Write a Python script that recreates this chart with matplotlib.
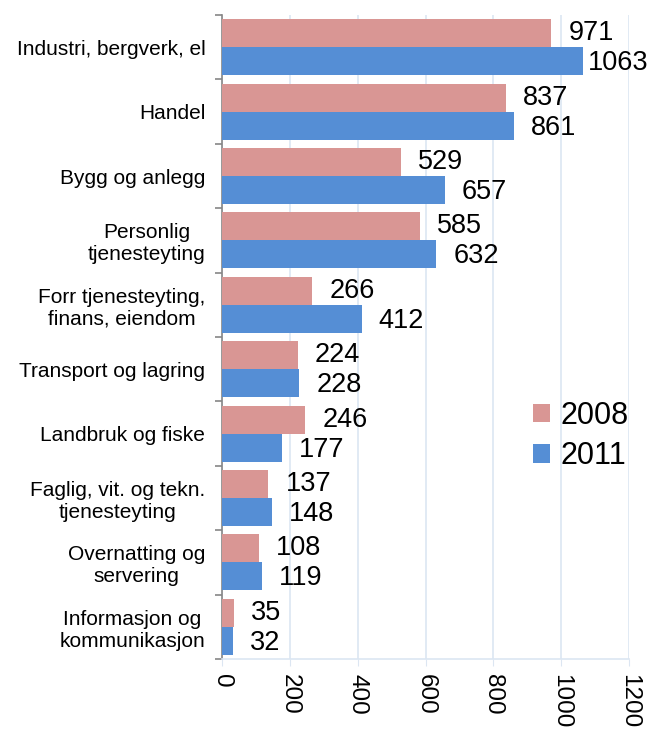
import matplotlib.pyplot as plt
import numpy as np

plt.rcParams['font.family'] = ['Liberation Sans', 'DejaVu Sans']

categories = [
    "Industri, bergverk, el",
    "Handel",
    "Bygg og anlegg",
    "Personlig\ntjenesteyting",
    "Forr tjenesteyting,\nfinans, eiendom",
    "Transport og lagring",
    "Landbruk og fiske",
    "Faglig, vit. og tekn.\ntjenesteyting",
    "Overnatting og\nservering",
    "Informasjon og\nkommunikasjon",
]
v2008 = [971, 837, 529, 585, 266, 224, 246, 137, 108, 35]
v2011 = [1063, 861, 657, 632, 412, 228, 177, 148, 119, 32]
xticks = [0, 200, 400, 600, 800, 1000, 1200]

pink = '#d99694'
blue = '#558ed5'
grid_col = '#dce6f2'

fig = plt.figure(figsize=(6.47, 7.31), dpi=100)
ax = fig.add_axes([222 / 647, 72 / 731, 407 / 647, 644 / 731])

y = np.arange(len(categories))
h = 0.435
ax.barh(y - h / 2, v2008, height=h, color=pink, label='2008', zorder=3)
ax.barh(y + h / 2, v2011, height=h, color=blue, label='2011', zorder=3)

for yi, a, b in zip(y, v2008, v2011):
    for val, yy in ((a, yi - h / 2), (b, yi + h / 2 + 0.03)):
        off = 5 if val > 1000 else 17
        ax.annotate(str(val), (val, yy), xytext=(off, 0), textcoords='offset pixels',
                    ha='left', va='center', fontsize=19.5)

ax.set_xlim(0, 1200)
ax.set_ylim(len(categories) - 0.5, -0.5)
ax.set_xticks(xticks)
ax.set_xticklabels([str(t) for t in xticks], rotation=270, fontsize=17.5)
ax.tick_params(axis='x', length=5, color=grid_col, pad=6)
ax.grid(axis='x', color=grid_col, linewidth=1.2, zorder=0)

ax.set_yticks(y)
ax.set_yticklabels(categories, fontsize=15, multialignment='center')
ax.tick_params(axis='y', which='major', length=0, pad=12)
ax.set_yticks(np.arange(-0.5, len(categories), 1), minor=True)
ax.tick_params(axis='y', which='minor', length=5, color='#868686', width=1.2)

for s in ('top', 'right'):
    ax.spines[s].set_visible(False)
ax.spines['bottom'].set_color(grid_col)
ax.spines['bottom'].set_linewidth(1.2)
ax.spines['left'].set_color('#868686')
ax.spines['left'].set_linewidth(1.2)

ax.legend(loc='upper left', bbox_to_anchor=(0.735, 0.42), frameon=False,
          fontsize=22, handlelength=0.55, handleheight=0.55, handletextpad=0.35,
          labelspacing=0.35, borderaxespad=0)

fig.savefig('out.png', dpi=100)
